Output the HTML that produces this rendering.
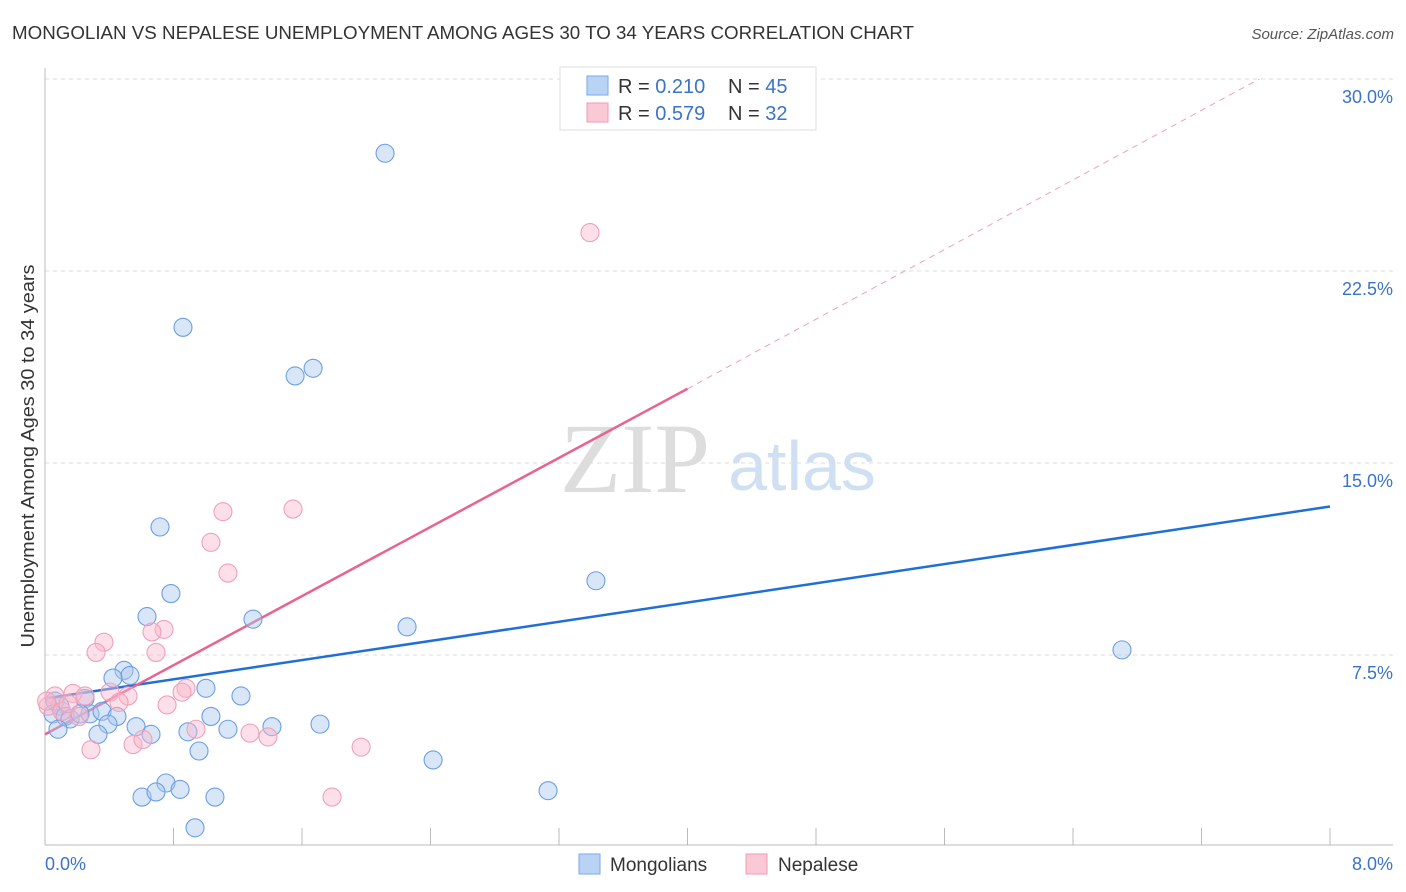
<!DOCTYPE html>
<html><head><meta charset="utf-8"><style>
body{margin:0;background:#fff;font-family:"Liberation Sans",sans-serif}
svg{display:block}
</style></head><body>
<svg id="chart" width="1406" height="892">
<text x="12" y="39" font-size="18" fill="#333" textLength="902" lengthAdjust="spacingAndGlyphs">MONGOLIAN VS NEPALESE UNEMPLOYMENT AMONG AGES 30 TO 34 YEARS CORRELATION CHART</text>
<text x="1394" y="39" font-size="15" fill="#555" font-style="italic" text-anchor="end">Source: ZipAtlas.com</text>
<text x="635" y="492" font-size="100" fill="#ddd" font-family="Liberation Serif,serif" text-anchor="middle">ZIP</text>
<text x="802" y="490" font-size="70" fill="#d0e0f3" text-anchor="middle">atlas</text>
<text transform="translate(34,456) rotate(-90)" font-size="18" fill="#333" text-anchor="middle" textLength="383" lengthAdjust="spacingAndGlyphs">Unemployment Among Ages 30 to 34 years</text>
<text x="45" y="870" font-size="18" fill="#3b73c9">0.0%</text>
<text x="1393" y="870" font-size="18" fill="#3b73c9" text-anchor="end">8.0%</text>
<g id="grid"></g><g id="ticks"></g><g id="lines"></g><g id="points"></g>
<g>
<rect x="560" y="67" width="256" height="63" fill="#fff" stroke="#ddd"/>
<rect x="587" y="76" width="21" height="19" fill="#b9d3f5" stroke="#7aa8e8"/>
<rect x="587" y="103" width="21" height="19" fill="#fbc8d6" stroke="#f19ab5"/>
<text x="618" y="93" font-size="20" fill="#333">R = <tspan fill="#3b73c9">0.210</tspan><tspan x="728">N = </tspan><tspan fill="#3b73c9">45</tspan></text>
<text x="618" y="120" font-size="20" fill="#333">R = <tspan fill="#3b73c9">0.579</tspan><tspan x="728">N = </tspan><tspan fill="#3b73c9">32</tspan></text>
</g>
<g>
<rect x="579" y="854" width="21" height="20" fill="#b9d3f5" stroke="#7aa8e8"/>
<text x="610" y="871" font-size="19" fill="#333">Mongolians</text>
<rect x="746" y="854" width="21" height="20" fill="#fbc8d6" stroke="#f19ab5"/>
<text x="778" y="871" font-size="19" fill="#333">Nepalese</text>
</g>
</svg>
<script>
const yTicks=[7.5,15,22.5,30];
const yTickLabels=["7.5%","15.0%","22.5%","30.0%"];
const xTicks=[0,0.8,1.6,2.4,3.2,4.0,4.8,5.6,6.4,7.2,8.0];
const mongX=[2.117,0.859,1.557,1.669,0.716,0.784,0.635,1.295,2.254,3.430,6.705,0.492,0.529,0.423,1.002,1.220,0.249,0.062,0.093,0.050,0.125,0.156,0.280,0.355,0.448,0.218,1.033,0.567,0.392,0.330,0.660,0.890,1.139,1.413,1.712,0.081,0.959,2.416,0.753,0.604,0.691,0.841,1.058,0.934,3.132];
const mongY=[27.1,20.3,18.4,18.7,12.5,9.9,9.0,8.9,8.6,10.4,7.7,6.9,6.7,6.6,6.2,5.9,5.8,5.7,5.5,5.2,5.1,5.0,5.2,5.3,5.1,5.2,5.1,4.7,4.8,4.4,4.4,4.5,4.6,4.7,4.8,4.6,3.75,3.4,2.5,1.95,2.15,2.25,1.95,0.75,2.2];
const nepX=[3.393,1.544,1.108,1.033,1.139,0.741,0.666,0.367,0.318,0.691,0.878,0.853,0.405,0.517,0.174,0.062,0.249,0.461,0.760,0.019,0.106,0.212,0.940,1.276,1.388,0.548,0.610,0.286,1.968,1.787,0.01,0.143];
const nepY=[24.0,13.2,13.1,11.9,10.7,8.5,8.4,8.0,7.6,7.6,6.2,6.05,6.05,5.9,6.0,5.9,5.9,5.65,5.55,5.5,5.3,5.1,4.6,4.45,4.3,4.0,4.2,3.8,3.9,1.95,5.7,5.6];
const mongTrend=[[0,5.8],[8,13.3]];
const nepTrend=[[0,4.4],[4.0,17.9]];
const nepTrendExt=[[4.0,17.9],[7.56,30]];
const NS="http://www.w3.org/2000/svg";
const X=v=>45+v/8*1285, Y=v=>847-v/30*768;
function mk(t,a,p){const e=document.createElementNS(NS,t);for(const k in a)e.setAttribute(k,a[k]);document.getElementById(p).appendChild(e);return e;}
yTicks.forEach((t,i)=>{
 const l=mk('line',{x1:45,x2:1393,y1:Y(t),y2:Y(t),stroke:'#ddd','stroke-dasharray':'4,4'},'grid');
 
 
 const tx=mk('text',{x:1393,y:Y(t)+24,'font-size':18,fill:'#3b73c9','text-anchor':'end'},'grid');
 tx.textContent=yTickLabels[i];
 
 
});
const ax=mk('line',{x1:45,x2:45,y1:68,y2:845,stroke:'#bbb'},'ticks');


const bx=mk('line',{x1:45,x2:1393,y1:845,y2:845,stroke:'#bbb'},'ticks');


xTicks.forEach(t=>{if(t>8)return;
 const l=mk('line',{x1:X(t),x2:X(t),y1:828,y2:845,stroke:'#bbb'},'ticks');
 
 
});
function pts(xs,ys,fill,stroke,name){xs.forEach((x,i)=>{
 const c=mk('circle',{cx:X(x),cy:Y(ys[i]),r:9,fill:fill,stroke:stroke,'stroke-width':1.1},'points');
 
 
});}
pts(mongX,mongY,'rgba(170,200,240,0.45)','#6b9fe2','mongolian-point');
pts(nepX,nepY,'rgba(248,185,205,0.45)','#f0a0ba','nepalese-point');
function ln(p,stroke,w,dash,name){const l=mk('line',{x1:X(p[0][0]),y1:Y(p[0][1]),x2:X(p[1][0]),y2:Y(p[1][1]),stroke:stroke,'stroke-width':w},'lines');
 if(dash)l.setAttribute('stroke-dasharray',dash);
 
 }
ln(nepTrendExt,'#f0a0b8',1,'6,5','nepalese-trend-extension');
ln(mongTrend,'#1f6fd6',2.5,null,'mongolian-trend-line');
ln(nepTrend,'#e8648e',2.5,null,'nepalese-trend-line');
</script>
</body></html>
